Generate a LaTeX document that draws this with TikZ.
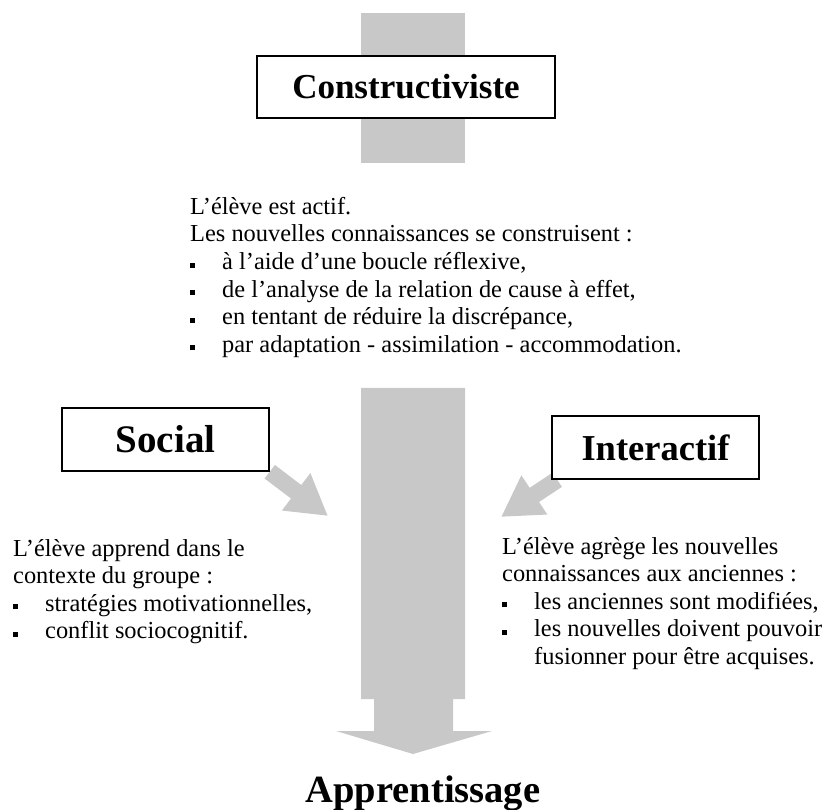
\documentclass[tikz,border=0pt]{standalone}
\usepackage{fontspec}
\setmainfont{Liberation Serif}
\usetikzlibrary{arrows.meta, positioning, backgrounds}
\definecolor{flow}{HTML}{C8C8C8}
\newcommand{\puce}{\makebox[32pt][l]{\raisebox{2pt}{\rule{5pt}{5pt}}}}
\newcommand{\titresize}[1]{\fontsize{#1}{#1}\selectfont\bfseries}

\begin{document}
\begin{tikzpicture}[x=1pt, y=-1pt,
    titre/.style={draw, line width=1.5pt, fill=white, minimum width=207pt, minimum height=63pt},
    texte/.style={anchor=north west, inner sep=0pt, align=left, font=\fontsize{24.4}{27.6}\selectfont},
    fleche/.style={flow, line width=17pt, -{Triangle[length=40pt, width=44pt]}},
]
\useasboundingbox (0,0) rectangle (823,810);

% --- Constructiviste ---
\fill[flow] (361,13) rectangle (465,163);
\node[titre, minimum width=298pt, minimum height=62pt, font=\titresize{35}] (constr) at (406,87) {Constructiviste};
\node[texte] (constrtxt) at (190,197) {L’élève est actif.\\
Les nouvelles connaissances se construisent :\\
\puce à l’aide d’une boucle réflexive,\\
\puce de l’analyse de la relation de cause à effet,\\
\puce en tentant de réduire la discrépance,\\
\puce par adaptation - assimilation - accommodation.};

% --- main arrow down to Apprentissage ---
\fill[flow] (361,388) -- (465,388) -- (465,699) -- (453,699) -- (453,731) -- (492,731)
  -- (413,754) -- (336,731) -- (374,731) -- (374,699) -- (361,699) -- cycle;
\node[font=\titresize{38.5}] (appr) at (423,793) {Apprentissage};

% --- Social ---
\coordinate (tipS) at (328,516);
\node[titre, font=\titresize{39}] (social) at (165.5,439.5) {Social};
\begin{scope}[on background layer]
  \draw[fleche] (social.south east) -- (tipS);
\end{scope}
\node[texte] (socialtxt) at (13,539) {L’élève apprend dans le\\
contexte du groupe :\\
\puce stratégies motivationnelles,\\
\puce conflit sociocognitif.};

% --- Interactif ---
\coordinate (tipI) at (501,517);
\node[titre, font=\titresize{36.5}] (inter) at (655.5,447.5) {Interactif};
\begin{scope}[on background layer]
  \draw[fleche] ([xshift=6pt]inter.south west) -- (tipI);
\end{scope}
\node[texte] (intertxt) at (502,537) {L’élève agrège les nouvelles\\
connaissances aux anciennes :\\
\puce les anciennes sont modifiées,\\
\puce les nouvelles doivent pouvoir\\
\hspace*{32pt}fusionner pour être acquises.};

\end{tikzpicture}
\end{document}
